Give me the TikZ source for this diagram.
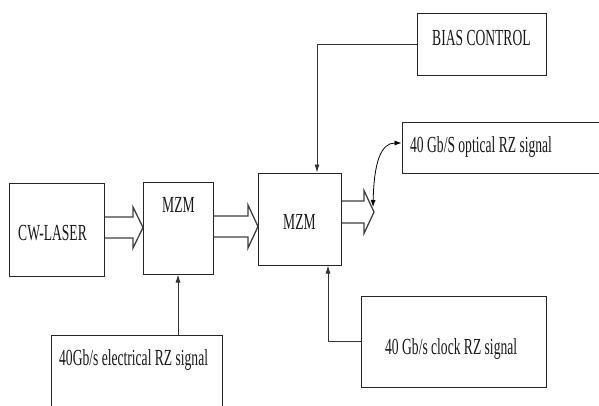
\documentclass[tikz,border=0pt]{standalone}
\usepackage{fontspec}
\setmainfont{Liberation Serif}[FakeStretch=0.59]
\usetikzlibrary{arrows.meta}
\tikzset{
  box/.style={draw=black!85, line width=1pt, inner sep=0pt, rectangle},
  lbl/.style={inner sep=0pt, font=\fontsize{23}{23}\selectfont, text=black!90},
  arr/.style={draw=black!80, line width=0.8pt, -{Latex[length=8pt,width=5pt]}},
  dblarr/.style={draw=black, line width=0.8pt, {Latex[length=7pt,width=5pt]}-{Latex[length=7pt,width=5pt]}},
  hollow/.style={draw=black!75, line width=1.3pt, line join=miter, fill=white}
}
\newcommand\hollowarrow[6]{% x0, tip, yc, body half, head half, head base
  \draw[hollow] (#1,#3-#4) -- (#6,#3-#4) -- (#6,#3-#5) -- (#2,#3) -- (#6,#3+#5) -- (#6,#3+#4) -- (#1,#3+#4);
}
\begin{document}
\begin{tikzpicture}[x=1pt,y=-1pt]
\clip (0,0) rectangle (599,405);
\fill[white] (0,0) rectangle (599,405);
% boxes
\node[box, minimum width=95pt, minimum height=93pt] (laser) at (56.5,229.5) {};
\node[box, minimum width=70pt, minimum height=92pt] (mzm1) at (178,228) {};
\node[box, minimum width=83pt, minimum height=92pt] (mzm2) at (299.5,219) {};
\node[box, minimum width=208pt, minimum height=51pt] (opt) at (506,147.5) {};
\node[box, minimum width=129pt, minimum height=62pt] (bias) at (481.5,44) {};
\node[box, minimum width=171pt, minimum height=80pt] (elec) at (136.5,375) {};
\node[box, minimum width=185pt, minimum height=91pt] (clock) at (453.5,341.5) {};
% texts
\node[lbl, anchor=base west] (laserT) at (18,240.5) {CW-LASER};
\node[lbl, anchor=base west] (mzm1T) at (162,212.5) {MZM};
\node[lbl, anchor=base west] (mzm2T) at (283,229) {MZM};
\node[lbl, anchor=base west] (optT) at (410,152) {40 Gb/S optical RZ signal};
\node[lbl, anchor=base west] (biasT) at (432,45) {BIAS CONTROL};
\node[lbl, anchor=base west] (elecT) at (59,365) {40Gb/s electrical RZ signal};
\node[lbl, anchor=base west] (clockT) at (385,354) {40 Gb/s clock RZ signal};
% hollow arrows
\hollowarrow{105}{143}{227.5}{10.5}{20.5}{133}
\hollowarrow{214}{258}{226.5}{10.5}{21.5}{248}
\hollowarrow{342}{374}{212}{11}{21.5}{364}
% connectors
\draw[arr] (bias.west) -| ([xshift=17.5pt]mzm2.north);
\draw[arr] (elec.north -| mzm1.south) -- (mzm1.south);
\draw[arr] (clock.west) -| ([xshift=28.5pt]mzm2.south);
\coordinate (cb) at (373,207);
\draw[dblarr] (cb) .. controls (374,162) and (381,143) .. ([yshift=4.5pt]opt.west);
\end{tikzpicture}
\end{document}
